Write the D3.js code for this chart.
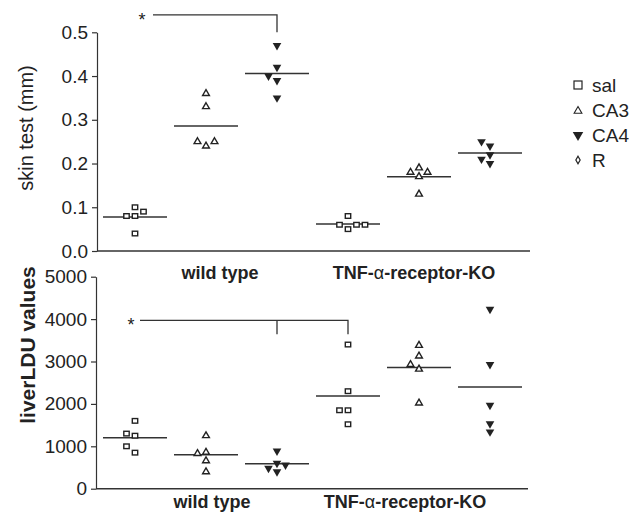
<!DOCTYPE html>
<html>
<head>
<meta charset="utf-8">
<script src="https://cdn.jsdelivr.net/npm/d3@7"></script>
<style>
  html, body { margin: 0; padding: 0; background: #fff; }
  svg { display: block; font-family: "Liberation Sans", Arial, sans-serif; }
</style>
</head>
<body>
<svg id="chart" width="629" height="512"></svg>
<script>
// ---- data ---------------------------------------------------------------
const strains = ["wild type", "TNF-α-receptor-KO"];
const treatments = ["sal", "CA3", "CA4"];
const legendItems = ["sal", "CA3", "CA4", "R"];

// skin test (mm), five animals per group
const skinWtSal = [0.04, 0.08, 0.08, 0.09, 0.10];
const skinWtCA3 = [0.24, 0.25, 0.25, 0.33, 0.36];
const skinWtCA4 = [0.35, 0.39, 0.40, 0.42, 0.47];
const skinKoSal = [0.05, 0.06, 0.06, 0.06, 0.08];
const skinKoCA3 = [0.13, 0.17, 0.18, 0.18, 0.19];
const skinKoCA4 = [0.20, 0.21, 0.22, 0.24, 0.25];

// liver LDU values
const liverWtSal = [850, 1000, 1250, 1300, 1600];
const liverWtCA3 = [400, 660, 830, 860, 1250];
const liverWtCA4 = [400, 480, 560, 600, 890];
const liverKoSal = [1520, 1850, 1850, 2300, 3400];
const liverKoCA3 = [2020, 2820, 2930, 3130, 3380];
const liverKoCA4 = [1340, 1530, 1970, 2930, 4230];

const skinTicks = [0.0, 0.1, 0.2, 0.3, 0.4, 0.5];
const liverTicks = [0, 1000, 2000, 3000, 4000, 5000];

// ---- layout -------------------------------------------------------------
const svg = d3.select("#chart");
const ink = "#222";
const axisInk = "#333";

const groupKeys = [];
strains.forEach((s, i) => treatments.forEach(t => groupKeys.push(i + ":" + t)));

const x = d3.scalePoint().domain(groupKeys).range([99.5, 525.5]).padding(0.5);

const panels = [
  {
    y: d3.scaleLinear().domain([0, 0.5]).range([251, 32.3]),
    ticks: skinTicks, fmt: d3.format(".1f"),
    axisX: 97, axisEnd: 530,
    series: [skinWtSal, skinWtCA3, skinWtCA4, skinKoSal, skinKoCA3, skinKoCA4],
    title: "skin test (mm)", titleWeight: "normal", titleSize: 20, titleX: 33, titleY: 128,
    bracket: { from: 0, to: 2, mid: null, yv: 0.54, drop: 0.5, starDx: -11 }
  },
  {
    y: d3.scaleLinear().domain([0, 5000]).range([488.7, 276.7]),
    ticks: liverTicks, fmt: d3.format("d"),
    axisX: 96, axisEnd: 528,
    series: [liverWtSal, liverWtCA3, liverWtCA4, liverKoSal, liverKoCA3, liverKoCA4],
    title: "liverLDU values", titleWeight: "bold", titleSize: 21, titleX: 35, titleY: 345,
    bracket: { from: -1, to: 3, mid: 2, yv: 3970, drop: 3640, starDx: -9 }
  }
];

// marker generators per treatment
const shapes = {
  sal: g => g.append("rect").attr("x", -2.7).attr("y", -2.3).attr("width", 5.4).attr("height", 4.6)
    .attr("fill", "#fff").attr("stroke", ink).attr("stroke-width", 1.4),
  CA3: g => g.append("path").attr("d", d3.symbol(d3.symbolTriangle).size(20)())
    .attr("fill", "#fff").attr("stroke", ink).attr("stroke-width", 1.4),
  CA4: g => g.append("path").attr("d", d3.symbol(d3.symbolTriangle).size(32)())
    .attr("transform", "rotate(180)").attr("fill", ink),
  R: g => g.append("path").attr("d", d3.symbol(d3.symbolDiamond).size(14)())
    .attr("fill", "#fff").attr("stroke", ink).attr("stroke-width", 1.2)
};

// side-by-side placement of replicates that would overlap vertically
function dodge(values, y) {
  const slotOrder = [0, -1, 1, 2, -2, 3, -3];
  const placed = [];
  values.slice().sort((a, b) => a - b).forEach(v => {
    const py = y(v);
    const slot = slotOrder.find(s => !placed.some(p => p.slot === s && Math.abs(p.py - py) < 7.5));
    placed.push({ v, py, slot });
  });
  return placed;
}
const slotWidth = 8.5;

panels.forEach(p => {
  const g = svg.append("g");

  // y axis
  const yAxis = d3.axisLeft(p.y).tickValues(p.ticks).tickFormat(p.fmt).tickSize(5).tickSizeOuter(0).tickPadding(4);
  const ga = g.append("g").attr("transform", `translate(${p.axisX},0)`).call(yAxis);
  ga.select(".domain").attr("stroke", axisInk).attr("stroke-width", 1.2);
  ga.selectAll(".tick line").attr("stroke", axisInk).attr("stroke-width", 1.2);
  ga.selectAll(".tick text").attr("fill", "#222").attr("font-size", 19)
    .attr("font-family", "'Liberation Sans', Arial, sans-serif");

  // x baseline
  g.append("line").attr("x1", p.axisX).attr("x2", p.axisEnd)
    .attr("y1", p.y(0)).attr("y2", p.y(0)).attr("stroke", axisInk).attr("stroke-width", 1.6);

  // y title
  g.append("text").attr("transform", `translate(${p.titleX},${p.titleY}) rotate(-90)`)
    .attr("text-anchor", "middle").attr("font-size", p.titleSize).attr("font-weight", p.titleWeight)
    .attr("fill", "#222").text(p.title);

  // points and mean lines
  p.series.forEach((vals, i) => {
    const key = groupKeys[i];
    const t = treatments[i % 3];
    const cx = x(key);
    g.append("line").attr("x1", cx - 32).attr("x2", cx + 32)
      .attr("y1", p.y(d3.mean(vals))).attr("y2", p.y(d3.mean(vals)))
      .attr("stroke", axisInk).attr("stroke-width", 1.5);
    dodge(vals, p.y).forEach(d => {
      const m = g.append("g").attr("transform", `translate(${cx + d.slot * slotWidth},${d.py})`);
      shapes[t](m);
    });
  });

  // significance bracket
  const b = p.bracket;
  const bx0 = b.from < 0 ? x(groupKeys[0]) + 5 : x(groupKeys[b.from]) + 18;
  const bx1 = x(groupKeys[b.to]);
  const by = p.y(b.yv);
  const path = d3.path();
  path.moveTo(bx0, by); path.lineTo(bx1, by); path.lineTo(bx1, p.y(b.drop));
  if (b.mid !== null) { path.moveTo(x(groupKeys[b.mid]), by); path.lineTo(x(groupKeys[b.mid]), p.y(b.drop)); }
  g.append("path").attr("d", path.toString()).attr("fill", "none").attr("stroke", axisInk).attr("stroke-width", 1.3);
  g.append("text").attr("x", bx0 + b.starDx).attr("y", by + 11).attr("text-anchor", "middle")
    .attr("font-size", 18).attr("fill", "#222").text("*");
});

// strain labels under each panel
const strainLabelSpots = [
  { y: 279, xs: [220, 414] },
  { y: 508, xs: [212, 405] }
];
strainLabelSpots.forEach(s => {
  strains.forEach((name, i) => {
    const tx = svg.append("text").attr("x", s.xs[i]).attr("y", s.y).attr("text-anchor", "middle")
      .attr("font-size", 18).attr("font-weight", "bold").attr("fill", "#222");
    name.split(/(α)/).forEach(part => {
      if (!part) return;
      tx.append("tspan").attr("font-weight", part === "α" ? "normal" : "bold").text(part);
    });
  });
});

// legend
const legend = svg.append("g").attr("transform", "translate(578,85)");
legendItems.forEach((name, i) => {
  const row = legend.append("g").attr("transform", `translate(0,${i * 25})`);
  const m = row.append("g");
  if (name === "sal") {
    m.append("rect").attr("x", -4).attr("y", -4).attr("width", 8).attr("height", 8)
      .attr("fill", "#fff").attr("stroke", ink).attr("stroke-width", 1.2);
  } else if (name === "CA3") {
    m.append("path").attr("d", d3.symbol(d3.symbolTriangle).size(26)()).attr("transform", "translate(0,1)")
      .attr("fill", "#fff").attr("stroke", ink).attr("stroke-width", 1.1);
  } else if (name === "CA4") {
    m.append("path").attr("d", d3.symbol(d3.symbolTriangle).size(48)()).attr("transform", "rotate(180)")
      .attr("fill", ink);
  } else {
    m.append("path").attr("d", d3.symbol(d3.symbolDiamond).size(16)())
      .attr("fill", "#fff").attr("stroke", ink).attr("stroke-width", 1.2);
  }
  row.append("text").attr("x", 14).attr("y", 7).attr("font-size", 19).attr("fill", "#222").text(name);
});
</script>
</body>
</html>
